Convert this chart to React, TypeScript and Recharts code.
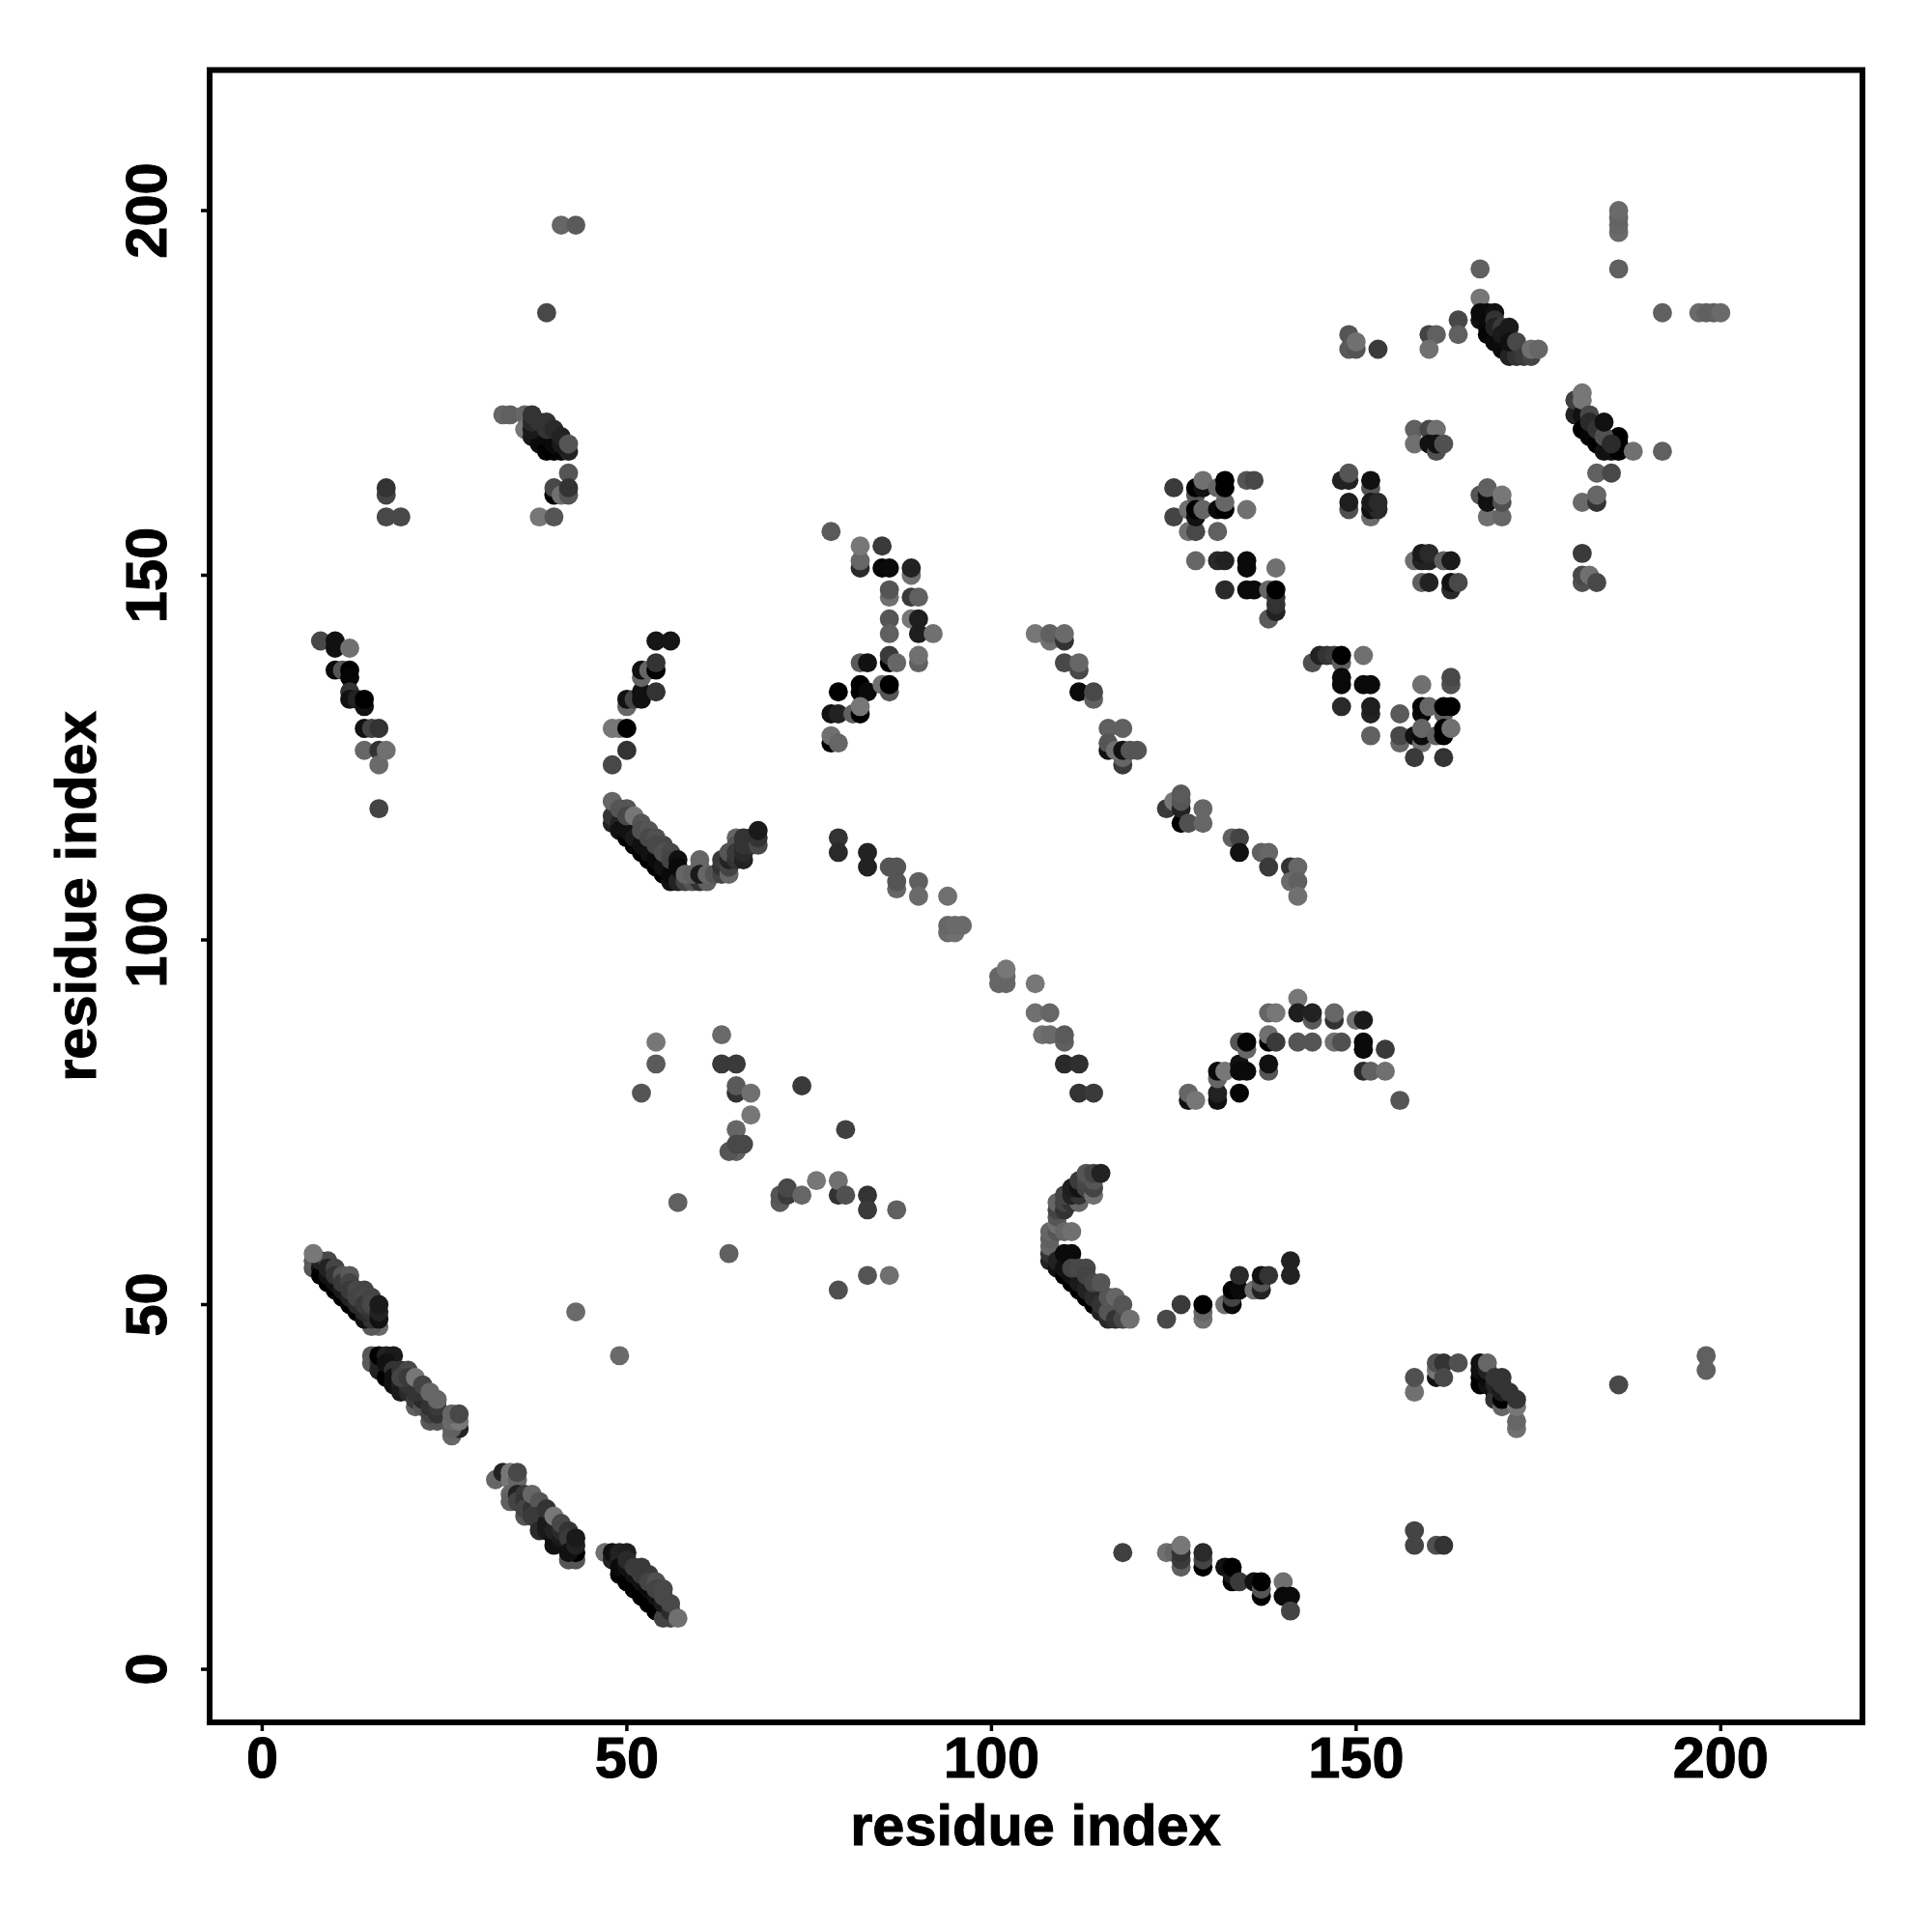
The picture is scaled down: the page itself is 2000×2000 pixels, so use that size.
import React from "react";
import { ScatterChart, Scatter, XAxis, YAxis, ZAxis, Cell, ReferenceArea } from "recharts";

// each entry: [residue i, residue j, grey level]
type C = [number, number, number];

const tickValues = [0, 50, 100, 150, 200];
const axisTitle = "residue index";
const xDomain = [-7.21, 219.43];
const yDomain = [-7.28, 219.27];

const strip1: C[] = [
  [16,47,106],[15,47,90],[7,55,85],[7,56,90],[8,55,17],[8,54,0],[9,53,0],[10,52,0],[11,51,0],[12,50,0],[13,49,0],[14,48,17],[15,48,51],
  [9,54,17],[10,53,17],[11,52,26],[12,51,34],[13,50,42],[14,49,42],[15,49,51],
  [8,56,34],[9,56,72],[9,55,34],[10,55,68],[10,54,51],[11,54,85],[11,53,58],[12,54,90],[12,53,68],[12,52,58],[13,52,72],[13,51,68],[14,52,68],[14,51,72],[14,50,58],[15,51,68],[15,50,72],
  [7,57,119],[16,48,17],[16,49,34],[16,50,26],
];
const strip2: C[] = [
  [15,43,85],[15,42,90],[16,42,51],[16,41,34],[17,40,0],[16,43,0],[17,43,34],[18,43,26],[17,42,17],[18,41,51],[18,40,17],[18,39,17],[19,39,34],[19,38,26],[20,38,42],[20,39,51],[19,41,51],[20,41,72],[19,40,68],[20,40,58],
  [21,36,96],[21,37,58],[22,36,85],[22,37,42],[21,38,51],[22,38,51],[21,40,119],[22,39,68],
  [23,34,90],[24,34,85],[23,35,68],[24,35,51],[23,36,51],[24,36,58],[23,38,102],[24,37,102],
  [26,32,102],[27,33,34],[26,33,96],[26,34,106],[27,34,119],[26,35,102],[27,35,72],
];
const strip3: C[] = [
  [32,26,102],[33,27,34],[34,27,119],[34,26,119],[35,26,102],[35,27,72],[34,24,102],[34,23,96],[35,24,34],[35,23,68],[36,24,58],[36,23,51],[36,21,85],[36,22,68],[37,22,51],[37,24,102],[38,22,68],[38,23,85],[38,21,42],[37,21,58],[38,20,58],[38,19,42],[39,19,26],[39,20,26],[39,22,51],[40,18,17],[40,17,17],[40,19,34],[41,18,26],[41,19,42],[40,21,119],[41,20,72],[42,19,51],[42,18,58],
  [42,15,85],[43,15,85],[43,16,0],[42,16,17],[43,17,34],[43,18,26],
];
const strip4: C[] = [
  [47,16,112],[48,15,34],[48,16,17],[49,15,34],[49,16,34],[50,16,30],[49,13,0],[49,14,10],[50,12,0],[50,14,17],[51,11,0],[51,13,17],[52,10,0],[52,12,17],[53,9,0],[53,11,10],[54,8,0],[54,10,17],[55,7,68],[56,7,68],[55,9,26],[56,8,42],
  [50,15,42],[51,14,58],[52,14,58],[52,13,58],[53,13,58],[53,12,68],[54,12,80],[54,11,68],[55,11,72],[55,10,72],[56,9,72],[57,7,112],
];
const farTail: C[] = [[118,16,64],[124,16,112],[125,16,102],[126,14,96],[126,15,58],[126,16,51],[126,17,119],[129,14,0],[129,15,68],[129,16,42],[132,14,17],[133,12,0],[133,13,26],[133,14,0],[134,12,58],[136,12,17],[137,10,0],[137,11,85],[137,12,0],[140,12,112],[140,10,10],[141,10,10],[141,8,68]];
const lowPatch: C[] = [[158,19,68],[158,17,68],[161,17,80],[162,17,51]];
const lowRight: C[] = [
  [158,38,112],[158,40,80],[161,40,17],[161,41,119],[161,42,80],[162,42,51],[162,40,72],[164,42,80],
  [167,39,0],[167,40,0],[167,41,17],[167,42,17],[168,39,17],[168,40,10],[169,38,17],[169,37,51],[170,36,102],[170,37,0],[169,39,34],[170,38,26],[168,41,34],[168,42,102],[169,40,51],[170,40,51],[170,39,51],[171,38,51],[172,33,112],[172,34,102],[172,36,119],[172,37,51],
];
const farDots: C[] = [[186,39,72],[198,43,96],[198,41,96]];

const hookLeft: C[] = [[8,141,72],[10,140,17],[10,141,17],[12,140,112],[10,137,10],[11,137,85],[12,137,0],[12,136,5],[12,134,51],[12,133,17],[13,133,34],[14,132,17],[14,133,0],[14,129,17],[15,129,68],[16,129,51],[14,126,102],[16,126,51],[16,124,106],[17,126,112],[16,118,68]];
const hookRight: C[] = [[48,129,119],[49,129,119],[50,129,0],[50,126,51],[48,124,72],[50,132,102],[50,133,17],[51,133,68],[52,133,17],[52,134,17],[52,136,102],[52,137,17],[53,137,102],[54,134,51],[54,137,0],[54,138,51],[54,141,22],[56,141,22]];
const curveA: C[] = [
  [48,116,34],[48,117,51],[49,116,34],[49,115,17],[50,114,0],[50,115,17],[51,113,0],[51,114,26],[52,112,0],[52,113,17],[53,111,0],[53,112,17],[54,110,0],[54,111,10],[55,109,0],[55,110,17],[56,108,17],[56,109,10],[57,108,34],[58,108,68],[59,108,85],[60,108,51],[61,108,96],
  [48,119,102],[49,118,85],[50,118,85],[50,117,72],[51,117,119],[52,116,85],[52,115,80],[53,115,85],[53,114,72],[54,114,80],[54,113,72],[55,113,72],[55,112,80],[56,112,72],[56,111,68],[57,111,17],[57,110,10],[58,109,102],[59,109,96],[60,111,102],[60,110,102],[60,109,26],[61,109,102],[62,109,85],[63,109,68],[63,110,51],[63,111,58],[64,109,102],[64,110,68],[64,111,34],[64,112,85],[65,111,51],[65,114,102],[65,113,85],[65,112,58],[66,111,34],[66,112,42],[66,113,51],[66,114,51],[67,114,51],[67,113,51],[68,113,72],[68,114,51],[68,115,26],
];
const topLeft: C[] = [[41,198,102],[43,198,90],[39,186,72],[17,161,68],[17,162,51],[17,158,72],[19,158,72]];
const cluster33: C[] = [[33,172,102],[34,172,96],[36,172,102],[36,170,119],[37,169,26],[38,168,10],[39,167,0],[40,167,0],[41,167,5],[42,167,34],[38,170,17],[39,169,10],[40,168,10],[41,168,26],[37,170,26],[37,171,42],[37,172,51],[38,171,51],[39,171,51],[39,170,51],[40,170,42],[41,169,34],[42,168,85],[42,164,85],[40,161,0],[40,162,72],[41,161,112],[42,161,85],[42,162,51],[38,158,119],[40,158,85]];
const scatterMid: C[] = [[54,86,119],[54,83,90],[52,79,85],[63,87,106],[63,83,58],[65,83,58],[65,79,51],[65,80,90],[67,79,112],[67,76,119],[65,74,102],[65,71,96],[64,71,85],[65,72,72],[66,72,72],[74,80,58],[80,74,64],[71,64,90],[71,65,85],[72,65,58],[72,66,72],[74,65,102],[76,67,119],[79,65,51],[79,67,112],[80,65,80],[83,65,51],[83,63,58],[87,63,96],[57,64,96],[64,57,96],[83,54,85],[86,54,112],[79,52,80],[43,49,106],[49,43,106]];
const arcUpper: C[] = [
  [78,156,90],[82,151,42],[82,152,102],[82,154,119],[85,154,58],[85,151,5],[86,151,10],[89,150,112],[89,151,34],[86,147,112],[86,148,85],[89,147,58],[90,147,96],[86,144,85],[86,142,96],[89,144,119],[90,144,30],[90,142,30],[92,142,112],[90,138,96],[90,139,112],[86,138,0],[86,139,58],[87,138,102],[82,138,90],[83,138,17],
  [82,134,0],[82,135,0],[83,134,10],[79,134,0],[85,135,112],[86,134,85],[86,135,0],[78,131,17],[79,131,34],[81,131,96],[82,131,0],[82,132,119],[78,127,0],[78,128,112],[79,127,102],
];
const diagTop: C[] = [
  [106,142,119],[108,141,112],[108,142,96],[110,141,51],[110,142,106],[110,138,72],[112,137,72],[112,138,102],[112,134,10],[114,133,96],[114,134,72],
  [116,129,96],[118,129,96],[116,126,17],[116,127,85],[118,124,58],[118,125,102],[117,126,112],[118,126,17],[119,126,85],[120,126,85],
  [124,118,58],[125,119,119],[126,116,0],[126,118,34],[126,119,85],[126,120,90],[127,116,80],[129,118,102],[129,116,102],
  [133,114,96],[134,114,68],[134,112,17],[137,112,96],[138,112,102],[138,110,58],[141,110,51],[142,110,102],[141,108,106],[142,108,96],[142,106,112],
];
const diagLow: C[] = [
  [79,114,51],[79,112,42],[83,112,34],[83,110,34],[86,110,85],[87,110,85],[87,107,102],[87,108,85],[90,108,96],[90,106,106],[94,106,112],
  [94,101,106],[95,101,112],[94,102,102],[95,102,106],[96,102,106],[101,94,102],[102,94,102],[101,95,102],[102,95,102],[102,96,119],
  [106,94,119],[106,90,112],[108,90,102],[107,87,112],[108,87,106],[110,86,96],[110,87,90],[110,83,42],[112,83,47],[112,79,51],[114,79,58],
];
const arcMid: C[] = [
  [127,78,17],[127,79,102],[128,78,119],[131,78,17],[131,79,34],[134,79,5],[131,81,102],[131,82,10],[132,82,119],[134,83,17],[134,82,10],[135,82,10],[138,82,85],[138,83,17],
  [134,86,85],[135,85,102],[135,86,5],[138,86,0],[138,87,112],[139,86,58],[138,90,102],[139,90,119],[142,92,119],[142,90,30],[144,89,90],[144,90,34],[142,86,85],[144,86,85],[147,89,51],[147,90,102],[147,86,112],[148,86,80],[150,89,112],[151,89,26],[151,85,10],[151,86,10],[154,85,58],[151,82,42],[152,82,96],[154,82,112],[156,78,85],
];
const cShape: C[] = [
  [108,56,34],[108,57,51],[108,58,102],[108,59,96],[108,60,102],[109,55,17],[109,56,34],[110,54,0],[111,53,0],[112,52,0],[113,51,0],[114,50,0],[115,49,34],[116,48,42],[110,55,17],[111,54,17],[112,53,26],[113,52,34],[114,51,42],[115,50,51],[116,49,85],
  [109,60,85],[109,61,112],[109,62,85],[109,63,68],[109,64,102],[110,63,51],[110,64,68],[111,64,51],[112,64,102],[110,60,102],[111,60,112],[110,57,10],[111,57,10],[110,65,68],[111,65,34],[112,65,51],[111,66,30],[112,66,17],[112,67,58],[113,66,68],[113,67,72],[114,65,112],[114,66,68],[114,67,85],[113,68,85],[114,68,68],[115,68,34],
  [111,55,68],[112,55,72],[113,55,72],[113,54,68],[114,53,72],[115,53,85],[116,51,85],[117,51,102],[117,48,51],[118,48,72],[118,50,85],[119,48,112],
];
const cTail: C[] = [[124,48,72],[126,50,58],[129,48,112],[129,49,102],[129,50,0],[132,50,112],[133,50,10],[133,51,68],[133,52,0],[134,52,10],[134,54,42],[136,52,112],[137,52,34],[137,53,85],[137,54,17],[138,54,51],[141,54,34],[141,56,34]];

const block125: C[] = [[125,162,58],[125,158,68],[127,159,112],[127,156,112],[128,161,85],[128,162,0],[128,156,72],[128,158,17],[128,159,0],[129,162,17],[129,163,112],[129,159,102],[131,162,102],[131,156,96],[131,159,10],[132,159,0],[132,160,102],[132,162,0],[132,163,0],[135,163,85],[136,163,72],[135,159,112]];
const block128: C[] = [[128,152,102],[131,152,42],[132,152,34],[135,151,10],[135,152,10],[139,151,112],[132,148,42],[135,148,10],[136,148,10],[138,148,102],[138,144,90],[139,145,34],[139,146,51],[139,147,51],[139,148,0]];
const block148: C[] = [[148,163,34],[149,163,34],[149,164,85],[152,162,85],[152,163,17],[149,159,80],[149,160,30],[152,158,106],[152,159,17],[153,159,42],[152,160,26],[153,160,42]];
const block158: C[] = [[158,152,112],[159,152,34],[160,152,34],[159,153,26],[160,153,42],[162,152,96],[163,152,26],[159,149,96],[160,149,34],[163,148,42],[163,149,17],[164,149,72],[168,158,112],[170,158,102],[167,161,85],[168,160,17],[168,161,17],[168,162,96],[170,160,80],[170,161,119]];
const block144: C[] = [[144,138,80],[145,139,34],[146,139,51],[147,139,58],[148,138,96],[148,139,0],[151,139,112],[148,135,10],[148,136,10],[151,135,10],[152,135,10],[148,132,42],[152,131,34],[152,132,30],[152,128,96]];
const block156: C[] = [[156,131,90],[159,135,112],[163,135,80],[163,136,72],[159,131,10],[159,132,5],[160,132,102],[162,131,96],[162,132,0],[163,132,0],[156,127,102],[156,128,72],[158,128,17],[159,127,112],[159,128,10],[159,129,102],[161,128,96],[162,128,0],[162,129,0],[163,129,112],[158,125,58],[162,125,51]];
const topMid: C[] = [[149,183,85],[149,181,90],[150,181,85],[150,182,112],[153,181,58],[160,183,68],[161,183,96],[160,181,112],[164,185,72],[164,183,96],[158,170,96],[158,168,112],[160,170,72],[161,170,112],[160,168,17],[161,167,80],[161,168,17],[162,168,80]];
const diag167: C[] = [[167,192,96],[167,188,119],[167,185,17],[167,186,10],[168,186,10],[169,186,17],[168,184,10],[168,183,5],[169,182,10],[170,181,10],[171,180,34],[172,180,51],[169,185,51],[169,184,34],[170,184,58],[170,183,26],[171,184,26],[171,182,17],[172,182,72],[173,180,58],[174,180,68],[174,181,112],[175,181,102]];
const diag180: C[] = [[180,172,34],[180,174,64],[181,172,17],[181,170,0],[181,174,119],[181,175,119],[182,169,5],[183,168,0],[184,167,17],[185,167,17],[186,167,0],[186,168,0],[186,169,0],[182,172,72],[182,171,42],[183,170,51],[184,169,80],[184,171,17],[185,168,42],[188,167,112],[192,167,96],[183,164,96],[185,164,72],[181,160,106],[183,160,51],[183,161,102],[181,153,58],[181,149,80],[181,150,72],[182,150,112],[183,149,72]];
const topRight: C[] = [[186,197,106],[186,198,102],[186,199,100],[186,200,106],[186,192,96],[192,186,96],[197,186,106],[198,186,96],[199,186,96],[200,186,106]];

const clusters: C[][] = [
  strip1, strip2, strip3, strip4, farTail, lowPatch, lowRight, farDots, hookLeft, hookRight, curveA,
  topLeft, cluster33, scatterMid, arcUpper, diagTop, diagLow, arcMid, cShape, cTail,
  block125, block128, block148, block158, block144, block156, topMid, diag167, diag180, topRight,
];

const FONT = "'Liberation Sans', Arial, sans-serif";
const grey = (s: number) => `rgb(${s},${s},${s})`;
const heavy = { stroke: "#000", strokeWidth: 1 };

const XTick = (p: any) => (
  <text x={p.x} y={1840} textAnchor="middle" fontFamily={FONT} fontWeight="bold" fontSize={59.5} fill="#000" {...heavy}>
    {p.payload.value}
  </text>
);
const YTick = (p: any) => (
  <text x={172} y={p.y} transform={`rotate(-90 172 ${p.y})`} textAnchor="middle" fontFamily={FONT} fontWeight="bold" fontSize={59.5} fill="#000" {...heavy}>
    {p.payload.value}
  </text>
);

export default function App() {
  return (
    <div style={{ position: "absolute", left: 0, top: 0, width: 2000, height: 2000, background: "#fff" }}>
      <ScatterChart width={2000} height={2000} margin={{ top: 72.5, right: 72, left: 0, bottom: 0 }}>
        <XAxis
          type="number" dataKey="x" domain={xDomain} ticks={tickValues} allowDataOverflow height={217}
          axisLine={false} tickSize={9} tickLine={{ stroke: "#000", strokeWidth: 3.5 }} tick={XTick} interval={0}
          label={(() => <text x={1072} y={1910} textAnchor="middle" fontFamily={FONT} fontWeight="bold" fontSize={59.5} fill="#000" {...heavy}>{axisTitle}</text>) as any}
        />
        <YAxis
          type="number" dataKey="y" domain={yDomain} ticks={tickValues} allowDataOverflow width={217}
          axisLine={false} tickSize={9} tickLine={{ stroke: "#000", strokeWidth: 3.5 }} tick={YTick} interval={0}
          label={(() => <text x={99} y={928} transform="rotate(-90 99 928)" textAnchor="middle" fontFamily={FONT} fontWeight="bold" fontSize={59.5} fill="#000" {...heavy}>{axisTitle}</text>) as any}
        />
        <ZAxis type="number" dataKey="s" range={[310, 310]} />
        {clusters.map((c, i) => {
          const rows = c.map(([x, y, s]) => ({ x, y, s }));
          return (
            <Scatter key={i} data={rows} isAnimationActive={false}>
              {rows.map((r, k) => <Cell key={k} fill={grey(r.s)} />)}
            </Scatter>
          );
        })}
        <ReferenceArea x1={xDomain[0]} x2={xDomain[1]} y1={yDomain[0]} y2={yDomain[1]} fill="none" stroke="#000" strokeWidth={6} ifOverflow="visible" />
      </ScatterChart>
    </div>
  );
}
